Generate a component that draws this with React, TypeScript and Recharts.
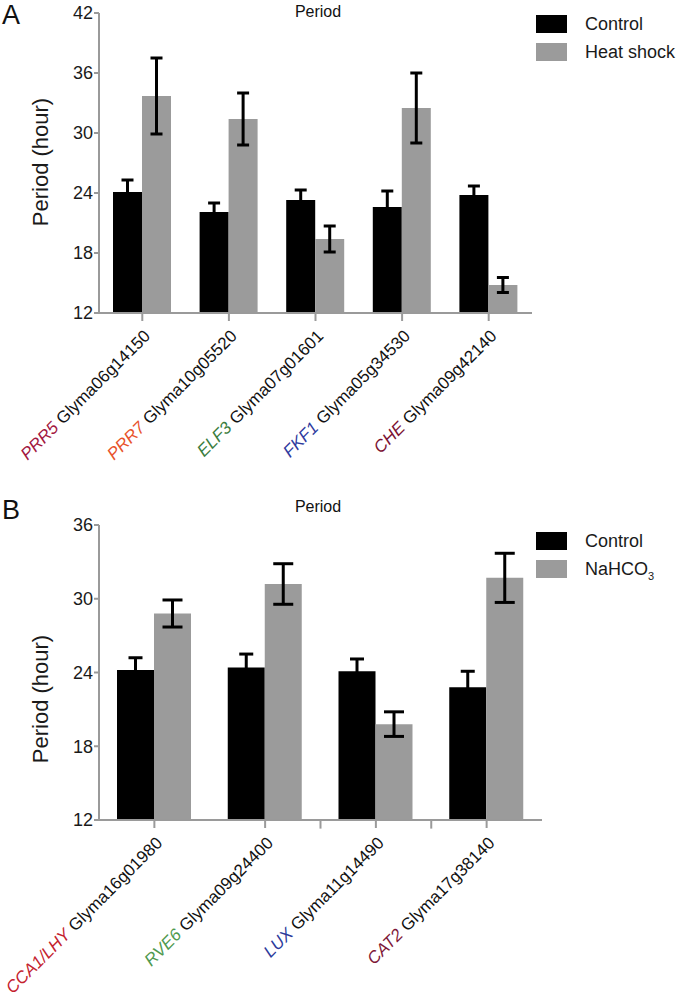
import React from "react";
import { BarChart, Bar, XAxis, YAxis, ErrorBar, ReferenceLine } from "recharts";

// Panel A — heat shock
const genesA = ["PRR5", "PRR7", "ELF3", "FKF1", "CHE"];
const idsA = ["Glyma06g14150", "Glyma10g05520", "Glyma07g01601", "Glyma05g34530", "Glyma09g42140"];
const controlA = [24.1, 22.1, 23.3, 22.6, 23.8];
const controlErrA = [1.2, 0.9, 1.0, 1.6, 0.9];
const heatA = [33.7, 31.4, 19.4, 32.5, 14.8];
const heatErrA = [3.8, 2.6, 1.3, 3.5, 0.75];
const ticksA = [12, 18, 24, 30, 36, 42];

// Panel B — NaHCO3
const genesB = ["CCA1/LHY", "RVE6", "LUX", "CAT2"];
const idsB = ["Glyma16g01980", "Glyma09g24400", "Glyma11g14490", "Glyma17g38140"];
const controlB = [24.2, 24.4, 24.1, 22.8];
const controlErrB = [1.0, 1.1, 1.0, 1.3];
const nahco3B = [28.8, 31.2, 19.8, 31.7];
const nahco3ErrB = [1.1, 1.65, 1.0, 2.0];
const ticksB = [12, 18, 24, 30, 36];
// extra axis ticks drawn at the left edge of these categories
const sepCatsB = ["Glyma11g14490", "Glyma17g38140"];

const geneColorsA = ["#a3173f", "#e8532b", "#3b7d3e", "#2e3a9e", "#7c1233"];
const geneColorsB = ["#c4222e", "#4f9a4f", "#2b3a9b", "#7e1838"];

const FONT = '"Liberation Sans", Arial, Helvetica, sans-serif';
const AXIS = "#9a9a9a";
const GREY = "#9b9b9b";

const dataA = idsA.map((id, i) => ({
  id,
  control: controlA[i],
  controlErr: controlErrA[i],
  treat: heatA[i],
  treatErr: heatErrA[i],
}));

const dataB = idsB.map((id, i) => ({
  id,
  control: controlB[i],
  controlErr: controlErrB[i],
  treat: nahco3B[i],
  treatErr: nahco3ErrB[i],
}));

function GeneTick({ x, y, payload, genes, colors }: any) {
  const i = payload.index;
  return (
    <g transform={`translate(${x + 9},${y + 16})`}>
      <text transform="rotate(-45)" textAnchor="end" fontSize={17} fontFamily={FONT}>
        <tspan fill={colors[i]} fontStyle="italic">{genes[i]}</tspan>
        <tspan fill="#111" dx={5}>{payload.value}</tspan>
      </text>
    </g>
  );
}

function LegendBox({ treatLabel, top }: { treatLabel: React.ReactNode; top: number }) {
  const rows = [
    { label: "Control", color: "#000" },
    { label: treatLabel, color: GREY },
  ];
  return (
    <div style={{ position: "absolute", left: 536, top, fontFamily: FONT }}>
      {rows.map((r, i) => (
        <div key={i} style={{ display: "flex", alignItems: "center", height: 18, marginBottom: 10 }}>
          <div style={{ width: 31, height: 18, background: r.color }} />
          <span style={{ marginLeft: 18, fontSize: 18, color: "#1a1a1a", lineHeight: "18px" }}>{r.label}</span>
        </div>
      ))}
    </div>
  );
}

function PanelText({ letter, labelY }: { letter: string; labelY: number }) {
  return (
    <>
      <div style={{ position: "absolute", left: 2, top: 2, fontSize: 27, lineHeight: 1, fontFamily: FONT, color: "#111" }}>
        {letter}
      </div>
      <div style={{ position: "absolute", left: 268, top: 4, width: 100, textAlign: "center", fontSize: 16, lineHeight: 1, fontFamily: FONT, color: "#111" }}>
        Period
      </div>
      <div
        style={{
          position: "absolute",
          left: 41 - 100,
          top: labelY - 11,
          width: 200,
          height: 22,
          lineHeight: "22px",
          textAlign: "center",
          fontSize: 22,
          fontFamily: FONT,
          color: "#1a1a1a",
          transform: "rotate(-90deg)",
        }}
      >
        Period (hour)
      </div>
    </>
  );
}

export default function App() {
  const tickStyle = { fontSize: 18, fill: "#1a1a1a", fontFamily: FONT };
  return (
    <div style={{ position: "absolute", left: 0, top: 0, width: 677, height: 1001, background: "#fff" }}>
      {/* Panel A */}
      <div style={{ position: "absolute", left: 0, top: 0, width: 677, height: 495 }}>
        <BarChart
          width={677}
          height={495}
          data={dataA}
          margin={{ top: 13, right: 145, bottom: 0, left: 0 }}
          barGap={0}
        >
          <XAxis
            dataKey="id"
            height={182}
            interval={0}
            stroke={AXIS}
            strokeWidth={2}
            tickSize={8}
            tickMargin={0}
            tickLine={{ stroke: AXIS, strokeWidth: 2 }}
            tick={<GeneTick genes={genesA} colors={geneColorsA} />}
          />
          <YAxis
            width={99}
            domain={[12, 42]}
            ticks={ticksA}
            interval={0}
            stroke={AXIS}
            strokeWidth={2}
            tickSize={5}
            tickMargin={1}
            tickLine={{ stroke: AXIS, strokeWidth: 2 }}
            tick={tickStyle}
          />
          <Bar dataKey="control" fill="#000" barSize={29} isAnimationActive={false}>
            <ErrorBar dataKey="controlErr" width={6} strokeWidth={3} stroke="#000" direction="y" />
          </Bar>
          <Bar dataKey="treat" fill={GREY} barSize={29} isAnimationActive={false}>
            <ErrorBar dataKey="treatErr" width={6} strokeWidth={3} stroke="#000" direction="y" />
          </Bar>
        </BarChart>
        <PanelText letter="A" labelY={162} />
        <LegendBox treatLabel="Heat shock" top={15} />
      </div>

      {/* Panel B */}
      <div style={{ position: "absolute", left: 0, top: 495, width: 677, height: 506 }}>
        <BarChart
          width={677}
          height={506}
          data={dataB}
          margin={{ top: 30, right: 135, bottom: 0, left: 0 }}
          barGap={0}
        >
          <XAxis
            dataKey="id"
            height={181}
            interval={0}
            stroke={AXIS}
            strokeWidth={2}
            tickSize={8}
            tickMargin={0}
            tickLine={{ stroke: AXIS, strokeWidth: 2 }}
            tick={<GeneTick genes={genesB} colors={geneColorsB} />}
          />
          <YAxis
            width={99}
            domain={[12, 36]}
            ticks={ticksB}
            interval={0}
            stroke={AXIS}
            strokeWidth={2}
            tickSize={5}
            tickMargin={1}
            tickLine={{ stroke: AXIS, strokeWidth: 2 }}
            tick={tickStyle}
          />
          <Bar dataKey="control" fill="#000" barSize={37} isAnimationActive={false}>
            <ErrorBar dataKey="controlErr" width={7} strokeWidth={3} stroke="#000" direction="y" />
          </Bar>
          <Bar dataKey="treat" fill={GREY} barSize={37} isAnimationActive={false}>
            <ErrorBar dataKey="treatErr" width={10} strokeWidth={3} stroke="#000" direction="y" />
          </Bar>
          {sepCatsB.map((c) => (
            <ReferenceLine
              key={c}
              position="start"
              ifOverflow="visible"
              segment={[
                { x: c, y: 12 },
                { x: c, y: 11.3 },
              ]}
              stroke={AXIS}
              strokeWidth={2}
            />
          ))}
        </BarChart>
        <PanelText letter="B" labelY={204} />
        <LegendBox
          treatLabel={
            <>
              NaHCO<sub style={{ fontSize: 11, verticalAlign: "-5px", lineHeight: 0 }}>3</sub>
            </>
          }
          top={37}
        />
      </div>
    </div>
  );
}
